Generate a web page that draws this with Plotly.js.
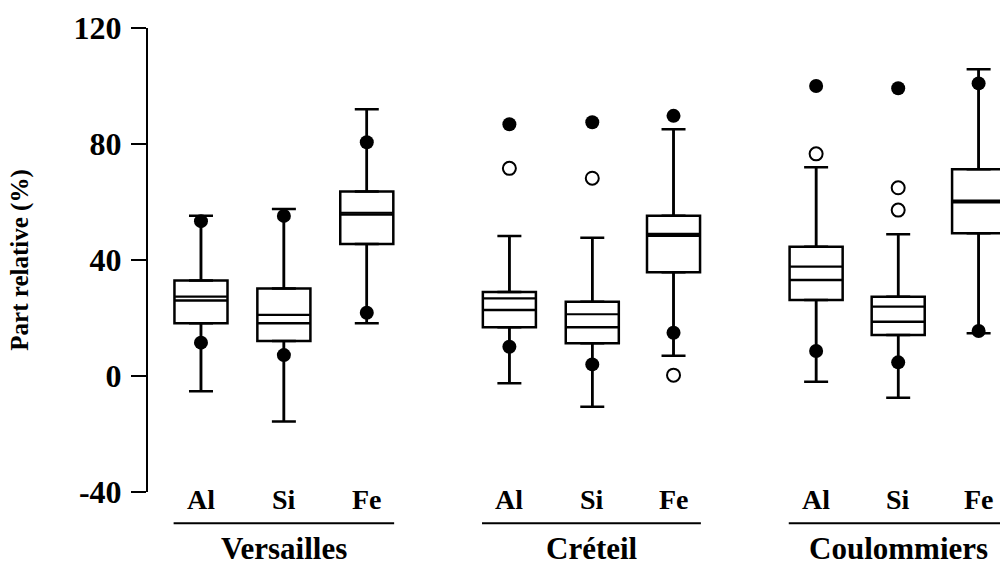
<!DOCTYPE html>
<html>
<head>
<meta charset="utf-8">
<script src="https://cdn.plot.ly/plotly-3.0.1.min.js"></script>
<style>html,body{margin:0;padding:0;background:#fff;}#chart{width:1000px;height:566px;}</style>
</head>
<body>
<div id="chart"></div>
<script>
// ---- data ----
var sites = ['Versailles', 'Créteil', 'Coulommiers'];
var elements = ['Al', 'Si', 'Fe', 'Al', 'Si', 'Fe', 'Al', 'Si', 'Fe'];
var positions = [0, 1, 2, 3.72, 4.72, 5.70, 7.42, 8.41, 9.38];
var yTickVals = [-40, 0, 40, 80, 120];
var yTickText = ['-40', '0', '40', '80', '120'];

var q1     = [18.2, 12.1, 45.5, 16.8, 11.3, 35.8, 26.2, 14.1, 49.2];
var median = [26.0, 18.2, 55.7, 22.8, 16.8, 48.4, 33.1, 18.7, 59.9];
var mean   = [27.4, 21.1, 56.3, 26.8, 21.3, 49.0, 37.7, 23.9, 60.5];
var q3     = [32.9, 30.2, 63.6, 29.0, 25.6, 55.3, 44.6, 27.3, 71.3];
var lowerWhisker = [-5.3, -15.7, 18.2, -2.5, -10.6, 7.0, -2.0, -7.5, 14.7];
var upperWhisker = [55.3, 57.6, 92.0, 48.3, 47.7, 85.1, 72.0, 48.9, 105.8];
var highPoint = [53.4, 55.2, 80.6, 86.8, 87.5, 89.7, 100.0, 99.2, 100.9];
var lowPoint  = [11.5, 7.2, 21.8, 10.1, 4.0, 14.9, 8.6, 4.7, 15.5];
var outlierBox   = [3, 4, 5, 6, 7, 7];
var outlierValue = [71.6, 68.2, 0.3, 76.6, 64.9, 57.2];

// ---- styling ----
var FONT = 'Liberation Serif, Times New Roman, serif';
var BLACK = '#000000';
var LW = 2.5;

var zeros = positions.map(function(){ return 0; });

var traces = [];

traces.push({
  type: 'box',
  x: positions,
  q1: q1, median: median, q3: q3,
  lowerfence: lowerWhisker, upperfence: upperWhisker,
  width: 0.64,
  fillcolor: '#ffffff',
  line: {color: BLACK, width: LW},
  whiskerwidth: 0,
  boxpoints: false,
  hoverinfo: 'skip',
  showlegend: false
});

// whisker caps (upper)
traces.push({
  type: 'scatter', mode: 'markers',
  x: positions, y: q3,
  marker: {opacity: 0, size: 1},
  error_y: {type: 'data', symmetric: false,
            array: upperWhisker.map(function(v, i){ return v - q3[i]; }),
            arrayminus: zeros, width: 12, thickness: LW, color: BLACK},
  hoverinfo: 'skip', showlegend: false
});
// whisker caps (lower)
traces.push({
  type: 'scatter', mode: 'markers',
  x: positions, y: q1,
  marker: {opacity: 0, size: 1},
  error_y: {type: 'data', symmetric: false,
            array: zeros,
            arrayminus: q1.map(function(v, i){ return v - lowerWhisker[i]; }),
            width: 12, thickness: LW, color: BLACK},
  hoverinfo: 'skip', showlegend: false
});

// mean line
traces.push({
  type: 'scatter', mode: 'markers',
  x: positions, y: mean,
  marker: {symbol: 'line-ew', size: 37, line: {color: BLACK, width: 2.2}},
  hoverinfo: 'skip', showlegend: false
});

// filled points
traces.push({
  type: 'scatter', mode: 'markers',
  x: positions.concat(positions),
  y: highPoint.concat(lowPoint),
  marker: {symbol: 'circle', size: 14, color: BLACK},
  hoverinfo: 'skip', showlegend: false
});

// open outliers
traces.push({
  type: 'scatter', mode: 'markers',
  x: outlierBox.map(function(i){ return positions[i]; }),
  y: outlierValue,
  marker: {symbol: 'circle-open', size: 13, color: BLACK, line: {color: BLACK, width: 2}},
  hoverinfo: 'skip', showlegend: false
});

var annotations = [];
elements.forEach(function(el, i){
  annotations.push({
    text: el, x: positions[i], xref: 'x', y: 0, yref: 'paper',
    xanchor: 'center', yanchor: 'middle', yshift: -7, showarrow: false,
    font: {family: FONT, size: 28, weight: 'bold', color: BLACK}
  });
});
var shapes = [];
sites.forEach(function(s, g){
  annotations.push({
    text: s, x: positions[3*g + 1], xref: 'x', y: 0, yref: 'paper',
    xanchor: 'center', yanchor: 'middle', yshift: -56, showarrow: false,
    font: {family: FONT, size: 31, weight: 'bold', color: BLACK}
  });
  shapes.push({
    type: 'line', xref: 'x', yref: 'paper',
    x0: positions[3*g] - 0.33, x1: positions[3*g + 2] + 0.33,
    y0: -0.0675, y1: -0.0675,
    line: {color: BLACK, width: 2}
  });
});

var layout = {
  width: 1000, height: 566,
  margin: {l: 148, r: 0, t: 28, b: 74},
  paper_bgcolor: '#ffffff', plot_bgcolor: '#ffffff',
  showlegend: false,
  xaxis: {
    range: [-0.639, 9.638], showgrid: false, zeroline: false,
    showline: false, showticklabels: false, ticks: ''
  },
  yaxis: {
    range: [-40, 120], tickvals: yTickVals, ticktext: yTickText,
    ticks: 'outside', ticklen: 15, tickwidth: 2, tickcolor: BLACK,
    ticklabelstandoff: 3,
    showline: true, linewidth: 2, linecolor: BLACK,
    showgrid: false, zeroline: false,
    tickfont: {family: FONT, size: 32, weight: 'bold', color: BLACK},
    title: {text: 'Part relative (%)', standoff: 38,
            font: {family: FONT, size: 25, weight: 'bold', color: BLACK}}
  },
  annotations: annotations,
  shapes: shapes
};

Plotly.newPlot('chart', traces, layout, {staticPlot: true, displayModeBar: false});
</script>
</body>
</html>
